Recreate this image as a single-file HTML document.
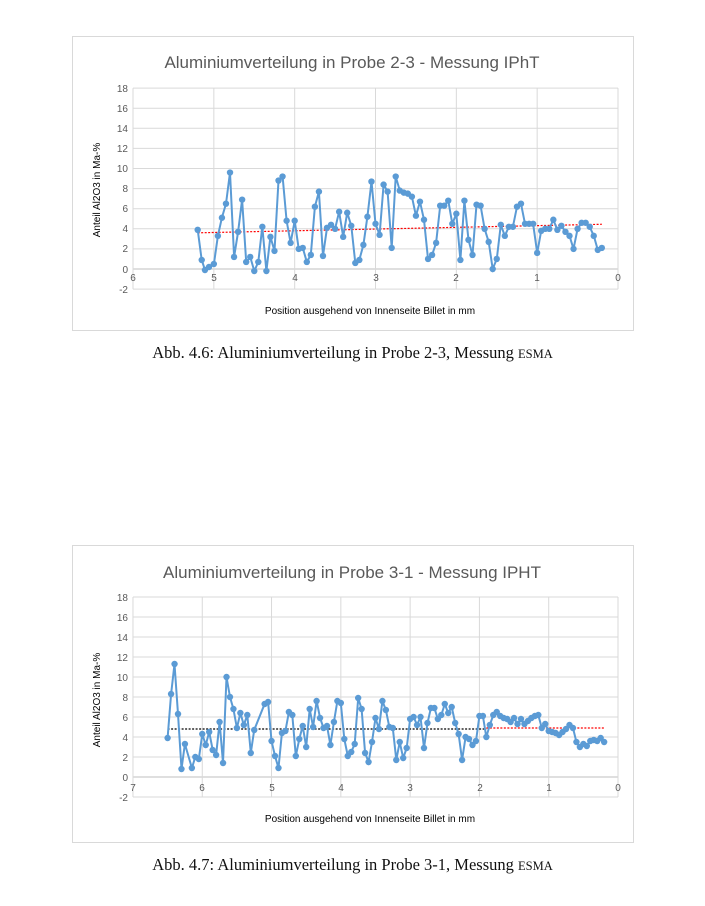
<!DOCTYPE html>
<html><head><meta charset="utf-8"><style>
html,body{margin:0;padding:0;background:#fff;width:705px;height:906px;overflow:hidden}
svg{position:absolute;left:0;top:0}
.cap{position:absolute;left:0;width:705px;text-align:center;font-family:"Liberation Serif",serif;font-size:16.5px;color:#111}
</style></head><body>
<svg id="s" width="705" height="906" xmlns="http://www.w3.org/2000/svg" font-family="Liberation Sans, sans-serif">
<rect x="72.5" y="36.5" width="561" height="294" fill="none" stroke="#d9d9d9"/>
<rect x="72.5" y="545.5" width="561" height="297" fill="none" stroke="#d9d9d9"/>
<g id="g1"></g><g id="g2"></g>
<text x="352" y="68" font-size="17" fill="#595959" text-anchor="middle">Aluminiumverteilung in Probe 2-3 - Messung IPhT</text>
<text x="370" y="314" font-size="10" fill="#000" text-anchor="middle">Position ausgehend von Innenseite Billet in mm</text>
<text transform="translate(100,190) rotate(-90)" font-size="10" fill="#000" text-anchor="middle">Anteil Al2O3 in Ma-%</text>
<g font-size="10" fill="#595959" text-anchor="end">
<text x="128" y="92">18</text><text x="128" y="112">16</text><text x="128" y="132">14</text><text x="128" y="152">12</text><text x="128" y="172">10</text><text x="128" y="192">8</text><text x="128" y="212">6</text><text x="128" y="232">4</text><text x="128" y="252">2</text><text x="128" y="273">0</text><text x="128" y="293">-2</text>
</g>
<g font-size="10" fill="#595959" text-anchor="middle">
<text x="133" y="281">6</text><text x="214" y="281">5</text><text x="295" y="281">4</text><text x="376" y="281">3</text><text x="456" y="281">2</text><text x="537" y="281">1</text><text x="618" y="281">0</text>
</g>
<text x="352" y="578" font-size="17" fill="#595959" text-anchor="middle">Aluminiumverteilung in Probe 3-1 - Messung IPHT</text>
<text x="370" y="822" font-size="10" fill="#000" text-anchor="middle">Position ausgehend von Innenseite Billet in mm</text>
<text transform="translate(100,700) rotate(-90)" font-size="10" fill="#000" text-anchor="middle">Anteil Al2O3 in Ma-%</text>
<g font-size="10" fill="#595959" text-anchor="end">
<text x="128" y="601">18</text><text x="128" y="621">16</text><text x="128" y="641">14</text><text x="128" y="661">12</text><text x="128" y="681">10</text><text x="128" y="701">8</text><text x="128" y="721">6</text><text x="128" y="741">4</text><text x="128" y="761">2</text><text x="128" y="781">0</text><text x="128" y="801">-2</text>
</g>
<g font-size="10" fill="#595959" text-anchor="middle">
<text x="133" y="791">7</text><text x="202" y="791">6</text><text x="272" y="791">5</text><text x="341" y="791">4</text><text x="410" y="791">3</text><text x="480" y="791">2</text><text x="549" y="791">1</text><text x="618" y="791">0</text>
</g>
</svg>
<div class="cap" style="top:343px">Abb. 4.6: Aluminiumverteilung in Probe 2-3, Messung <span style="font-size:12.5px">ESMA</span></div>
<div class="cap" style="top:855px">Abb. 4.7: Aluminiumverteilung in Probe 3-1, Messung <span style="font-size:12.5px">ESMA</span></div>
<script>
var NS="http://www.w3.org/2000/svg";
function el(p,t,a){var e=document.createElementNS(NS,t);for(var k in a)e.setAttribute(k,a[k]);p.appendChild(e);return e;}
function chart(g,xmax,x0px,y0px,sx,sy,data,trends){
 var X=function(v){return x0px-v*sx},Y=function(v){return y0px-v*sy};
 for(var v=-2;v<=18;v+=2)el(g,"line",{x1:133,x2:618,y1:Y(v),y2:Y(v),stroke:v==0?"#bfbfbf":"#d9d9d9","stroke-width":1});
 for(var v=0;v<=xmax;v++)el(g,"line",{x1:X(v),x2:X(v),y1:Y(-2),y2:Y(18),stroke:"#d9d9d9","stroke-width":1});
 trends.forEach(function(t){el(g,"line",{x1:X(t[0]),y1:Y(t[1]),x2:X(t[2]),y2:Y(t[3]),stroke:t[4],"stroke-width":1.2,"stroke-dasharray":"2,1.5"});});
 var pts=[];for(var i=0;i<data.length;i+=2)pts.push(X(data[i]).toFixed(1)+","+Y(data[i+1]).toFixed(1));
 el(g,"polyline",{points:pts.join(" "),fill:"none",stroke:"#5b9bd5","stroke-width":2});
 for(var i=0;i<data.length;i+=2)el(g,"circle",{cx:X(data[i]),cy:Y(data[i+1]),r:3.2,fill:"#5b9bd5"});
}
var d1=[5.2,3.9,5.15,0.9,5.11,-0.1,5.06,0.2,5.0,0.5,4.95,3.3,4.9,5.1,4.85,6.5,4.8,9.6,4.75,1.2,4.7,3.7,4.65,6.9,4.6,0.7,4.55,1.2,4.5,-0.2,4.45,0.7,4.4,4.2,4.35,-0.2,4.3,3.2,4.25,1.8,4.2,8.8,4.15,9.2,4.1,4.8,4.05,2.6,4.0,4.8,3.95,2.0,3.9,2.1,3.85,0.7,3.8,1.4,3.75,6.2,3.7,7.7,3.65,1.3,3.6,4.1,3.55,4.4,3.5,4.0,3.45,5.7,3.4,3.2,3.35,5.6,3.3,4.3,3.25,0.6,3.2,0.9,3.15,2.4,3.1,5.2,3.05,8.7,3.0,4.5,2.95,3.4,2.9,8.4,2.85,7.7,2.8,2.1,2.75,9.2,2.7,7.8,2.65,7.6,2.6,7.5,2.55,7.2,2.5,5.3,2.45,6.7,2.4,4.9,2.35,1.0,2.3,1.4,2.25,2.6,2.2,6.3,2.15,6.3,2.1,6.8,2.05,4.5,2.0,5.5,1.95,0.9,1.9,6.8,1.85,2.9,1.8,1.4,1.75,6.4,1.7,6.3,1.65,4.0,1.6,2.7,1.55,0.0,1.5,1.0,1.45,4.4,1.4,3.3,1.35,4.2,1.3,4.2,1.25,6.2,1.2,6.5,1.15,4.5,1.1,4.5,1.05,4.5,1.0,1.6,0.95,3.8,0.9,4.0,0.85,4.0,0.8,4.9,0.75,3.9,0.7,4.3,0.65,3.7,0.6,3.3,0.55,2.0,0.5,4.0,0.45,4.6,0.4,4.6,0.35,4.2,0.3,3.3,0.25,1.9,0.2,2.1];
var d2=[6.5,3.9,6.45,8.3,6.4,11.3,6.35,6.3,6.3,0.8,6.25,3.3,6.15,0.9,6.1,2.0,6.05,1.8,6.0,4.3,5.95,3.2,5.9,4.5,5.85,2.7,5.8,2.2,5.75,5.5,5.7,1.4,5.65,10.0,5.6,8.0,5.55,6.8,5.5,4.9,5.45,6.4,5.4,5.2,5.35,6.2,5.3,2.4,5.25,4.7,5.1,7.3,5.05,7.5,5.0,3.6,4.95,2.1,4.9,0.9,4.85,4.4,4.8,4.6,4.75,6.5,4.7,6.2,4.65,2.1,4.6,3.8,4.55,5.1,4.5,3.0,4.45,6.8,4.4,5.0,4.35,7.6,4.3,5.9,4.25,4.9,4.2,5.1,4.15,3.2,4.1,5.5,4.05,7.6,4.0,7.4,3.95,3.8,3.9,2.1,3.85,2.5,3.8,3.3,3.75,7.9,3.7,6.8,3.65,2.4,3.6,1.5,3.55,3.5,3.5,5.9,3.45,4.8,3.4,7.6,3.35,6.7,3.3,5.0,3.25,4.9,3.2,1.7,3.15,3.5,3.1,1.9,3.05,2.9,3.0,5.8,2.95,6.0,2.9,5.2,2.85,6.0,2.8,2.9,2.75,5.4,2.7,6.9,2.65,6.9,2.6,5.8,2.55,6.2,2.5,7.3,2.45,6.4,2.4,7.0,2.35,5.4,2.3,4.3,2.25,1.7,2.2,4.0,2.15,3.8,2.1,3.2,2.05,3.6,2.0,6.1,1.95,6.1,1.9,4.0,1.85,5.2,1.8,6.2,1.75,6.5,1.7,6.1,1.65,5.9,1.6,5.8,1.55,5.5,1.5,5.9,1.45,5.3,1.4,5.8,1.35,5.3,1.3,5.6,1.25,5.9,1.2,6.1,1.15,6.2,1.1,4.9,1.05,5.3,1.0,4.6,0.95,4.5,0.9,4.4,0.85,4.2,0.8,4.5,0.75,4.8,0.7,5.2,0.65,4.9,0.6,3.5,0.55,3.0,0.5,3.3,0.45,3.1,0.4,3.6,0.35,3.7,0.3,3.6,0.25,3.9,0.2,3.5];
chart(document.getElementById("g1"),6,618,269,80.83,10.05,d1,[[5.2,3.6,0.2,4.45,"#ff0000"]]);
chart(document.getElementById("g2"),7,618,777,69.29,10.0,d2,[[6.5,4.8,1.9,4.8,"#000"],[1.9,4.9,0.2,4.9,"#ff0000"]]);
</script>
</body></html>
